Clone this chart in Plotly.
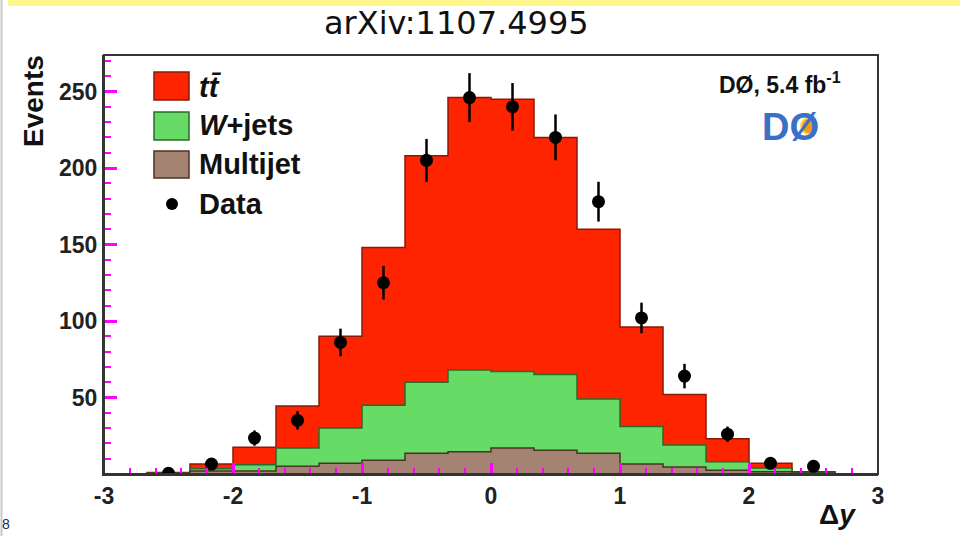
import numpy as np
import plotly.graph_objects as go

# Δy binning: 18 bins of width 1/3 between -3 and 3
bin_lo = -3.0
bin_hi = 3.0
n_bins = 18

# Stacked predictions per bin (events)
multijet = [0, 0.3, 2, 2, 5, 7, 9, 13.5, 14.5, 17, 15.5, 13.5, 6.5, 4.5, 2.5, 1.5, 0.5, 0]
wjets = [0, 0.2, 1.5, 4, 12, 23, 36, 46.5, 53.5, 50, 49.5, 35.5, 24.5, 14.5, 5.5, 2.5, 0.5, 0]
ttbar = [0, 0.5, 3, 11.5, 27.5, 60, 103, 148, 178, 178, 155, 111, 65, 33, 15, 3, 0.5, 0]

# Observed data and statistical uncertainties (None = empty bin)
data = [None, 0.5, 6.5, 23.5, 35, 86, 125, 205, 246, 240, 220, 178, 102, 64, 26, 7, 5, None]
data_err = [None, 1.0, 2.5, 5, 6, 9, 11, 14, 16, 15.5, 15, 13, 10, 8, 5, 2.6, 2.2, None]

x_ticks = [-3, -2, -1, 0, 1, 2, 3]
x_tick_labels = ["-3", "-2", "-1", "0", "1", "2", "3"]
y_ticks = [50, 100, 150, 200, 250]
y_tick_labels = ["50", "100", "150", "200", "250"]

W, H = 960, 536
FONT = "Liberation Sans, Arial, sans-serif"

edges = np.linspace(bin_lo, bin_hi, n_bins + 1)
centers = 0.5 * (edges[:-1] + edges[1:])

mj = np.array(multijet)
wj_cum = mj + np.array(wjets)
tot = wj_cum + np.array(ttbar)


def steps(vals):
    v = list(vals)
    return v + [v[-1]]


def px(x):
    return x / W


def py(y):
    return 1 - y / H


fig = go.Figure()

# stacked histograms, drawn back to front
for vals, fill, edge in [
    (tot, "#ff2400", "#8a1a08"),
    (wj_cum, "#66dc66", "#2a6a2a"),
    (mj, "#a58372", "#4a3326"),
]:
    fig.add_trace(go.Scatter(
        x=edges, y=steps(vals), mode="lines", line=dict(shape="hv", color=edge, width=1.5),
        fill="tozeroy", fillcolor=fill, hoverinfo="skip", showlegend=False,
    ))

fig.add_trace(go.Scatter(
    x=centers, y=data, mode="markers",
    marker=dict(color="black", size=13),
    error_y=dict(type="data", array=data_err, color="black", thickness=2.5, width=0),
    showlegend=False,
))

x0, x1 = 104, 878
y_top, y_zero = 55, 474
tick_font = dict(family=FONT, size=23, color="#222222")
clear = "rgba(0,0,0,0)"
tick_col = "#ff00ff"

fig.update_xaxes(
    range=[bin_lo, bin_hi], domain=[px(x0), px(x1)],
    showline=True, linecolor="#333333", linewidth=2, gridcolor=clear, zerolinecolor=clear,
    automargin=False, tickvals=x_ticks, ticktext=[f"<b>{t}</b>" for t in x_tick_labels],
    ticks="inside", ticklen=11, tickwidth=3, tickcolor=tick_col, tickfont=tick_font,
    minor=dict(ticks="inside", dtick=0.2, tick0=0, ticklen=6, tickwidth=2,
               tickcolor=tick_col, showgrid=False),
)
fig.update_yaxes(
    range=[0, (y_zero - y_top) / 1.53], domain=[py(y_zero), py(y_top)],
    showline=True, linecolor="#333333", linewidth=2, gridcolor=clear, zerolinecolor=clear,
    automargin=False, tickvals=y_ticks, ticktext=[f"<b>{t}</b>" for t in y_tick_labels],
    ticks="inside", ticklen=13, tickwidth=3, tickcolor=tick_col, tickfont=tick_font,
    minor=dict(ticks="inside", dtick=10, tick0=0, ticklen=7, tickwidth=2,
               tickcolor=tick_col, showgrid=False),
)

shapes = [
    # frame around the plotting area
    dict(type="rect", xref="x domain", yref="y domain", x0=0, x1=1, y0=0, y1=1,
         line=dict(color="#333333", width=2), fillcolor=clear, layer="above"),
    # yellow strip at the top and grey rule at the left edge
    dict(type="rect", xref="paper", yref="paper", x0=px(8), x1=1, y0=py(6), y1=1,
         fillcolor="#fff68c", line=dict(width=0), layer="below"),
    dict(type="line", xref="paper", yref="paper", x0=px(1.5), x1=px(1.5), y0=0, y1=1,
         line=dict(color="#c8c8c8", width=2)),
]

# legend
legend_rows = [
    ("<b><i>tt̄</i></b>", "#ff2400", "#8a1a08", 72, 100, 87),
    ("<b><i>W</i>+jets</b>", "#66dc66", "#2a6a2a", 112, 140, 125),
    ("<b>Multijet</b>", "#a58372", "#4a3326", 151, 178, 164),
]
annotations = []
for label, fill, edge, ya, yb, yc in legend_rows:
    shapes.append(dict(type="rect", xref="paper", yref="paper",
                       x0=px(154), x1=px(189), y0=py(yb), y1=py(ya),
                       fillcolor=fill, line=dict(color=edge, width=1.5)))
    annotations.append(dict(text=label, xref="paper", yref="paper", x=px(197), y=py(yc),
                            xanchor="left", yanchor="middle", showarrow=False,
                            font=dict(family=FONT, size=29, color="#111111")))
shapes.append(dict(type="circle", xref="paper", yref="paper",
                   x0=px(166), x1=px(178), y0=py(210), y1=py(198),
                   fillcolor="black", line=dict(color="black", width=0)))
annotations.append(dict(text="<b>Data</b>", xref="paper", yref="paper", x=px(197), y=py(204),
                        xanchor="left", yanchor="middle", showarrow=False,
                        font=dict(family=FONT, size=29, color="#111111")))

# experiment badge
shapes.append(dict(type="circle", xref="paper", yref="paper",
                   x0=px(801), x1=px(817), y0=py(134), y1=py(118),
                   fillcolor="#f29a1a", line=dict(color="#ffd84a", width=2)))
annotations += [
    dict(text="<b>DØ, 5.4 fb<sup>-1</sup></b>", xref="paper", yref="paper", x=px(843), y=py(83),
         xanchor="right", yanchor="middle", showarrow=False,
         font=dict(family=FONT, size=23, color="#111111")),
    dict(text="<b>DØ</b>", xref="paper", yref="paper", x=px(790), y=py(127),
         xanchor="center", yanchor="middle", showarrow=False,
         font=dict(family=FONT, size=38, color="#3a70c8")),
    # title
    dict(text="arXiv:1107.4995", xref="paper", yref="paper", x=px(456), y=py(23),
         xanchor="center", yanchor="middle", showarrow=False,
         font=dict(family="DejaVu Sans, sans-serif", size=32, color="#111111")),
    # axis titles
    dict(text="<b>Events</b>", xref="paper", yref="paper", x=px(34), y=py(53),
         xanchor="center", yanchor="top", textangle=-90, showarrow=False,
         font=dict(family=FONT, size=28, color="#111111")),
    dict(text="<b>Δ<i>y</i></b>", xref="paper", yref="paper", x=px(858), y=py(514),
         xanchor="right", yanchor="middle", showarrow=False,
         font=dict(family=FONT, size=28, color="#111111")),
    dict(text="8", xref="paper", yref="paper", x=px(0), y=py(524),
         xanchor="left", yanchor="middle", showarrow=False,
         font=dict(family=FONT, size=14, color="#1a2a4a")),
]

fig.update_layout(
    width=W, height=H, margin=dict(l=0, r=0, t=0, b=0),
    paper_bgcolor="white", plot_bgcolor="white",
    shapes=shapes, annotations=annotations, showlegend=False,
)

fig.write_html("out.html")
